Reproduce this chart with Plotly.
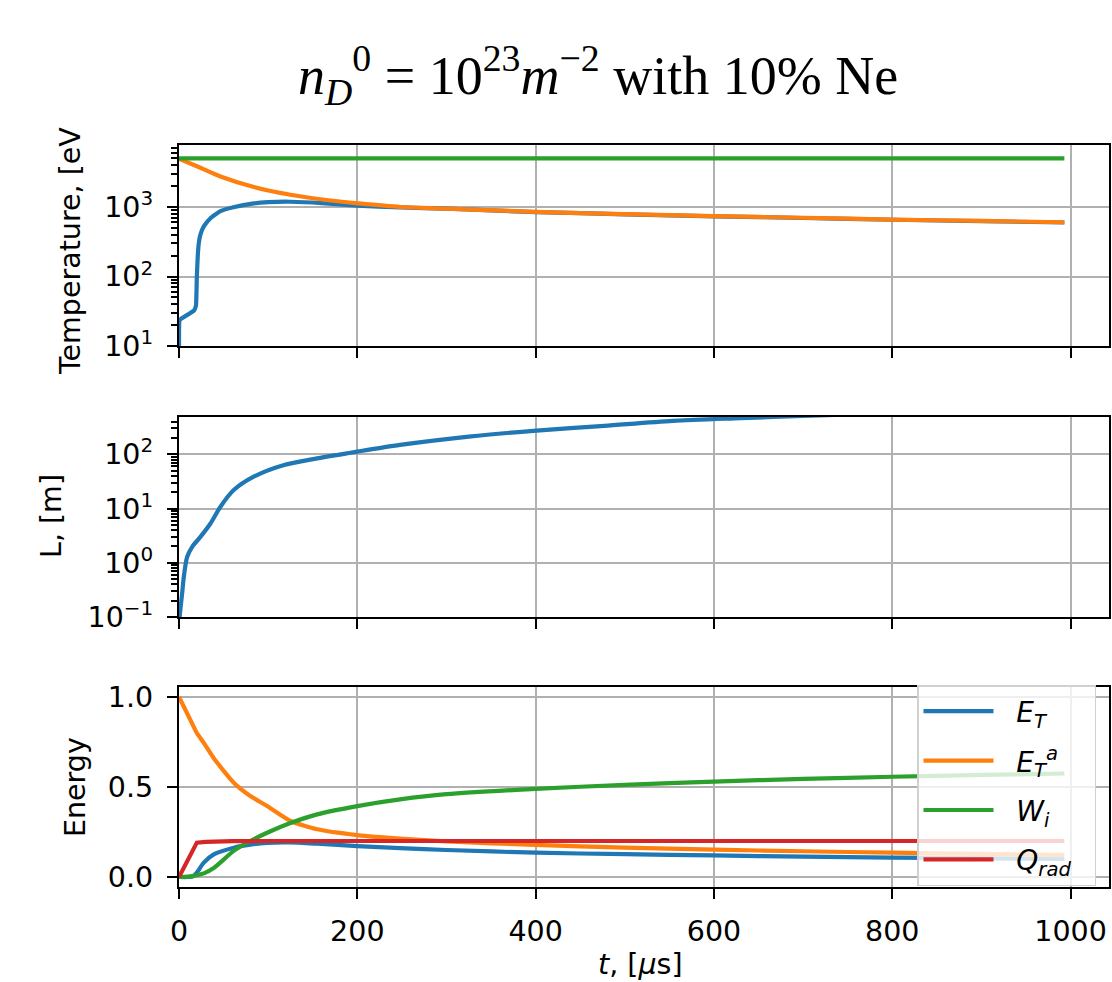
import plotly.graph_objects as go

# ---------------- data ----------------
# Top panel: temperatures [eV]
t_T = [0, 0.5, 2, 10, 17, 19, 20, 21, 22.2, 24, 27.8, 35.3, 46.5, 61, 84, 100,
       125, 160, 200, 248, 300, 400, 500, 600, 700, 800, 900, 993]
T_blue = [10, 23, 24.5, 28.4, 32.5, 38, 98, 192, 300, 400, 525, 690, 870, 990, 1125, 1175,
          1190, 1140, 1045, 985, 945, 845, 785, 735, 695, 655, 625, 598]
t_Ta = [0, 24, 46.5, 84, 125, 170, 200, 248, 300, 400, 500, 600, 700, 800, 900, 993]
T_orange = [4950, 3670, 2750, 1940, 1500, 1240, 1130, 1000, 950, 850, 790, 740, 700, 660, 630, 603]
t_Ti = [0, 993]
T_green = [5000, 5000]

# Middle panel: L [m]
t_L = [0, 0.7, 3.5, 5.4, 9.2, 14.8, 24, 35.3, 46.5, 61.4, 83.8, 117, 155, 200, 248,
       325, 401, 477, 554, 630, 700, 800, 993]
L_vals = [0.05, 0.1, 0.27, 0.55, 1.29, 1.97, 3.0, 5.3, 10.8, 21.9, 38.7, 63, 84, 112, 149,
          212, 274, 335, 414, 464, 510, 576, 700]

# Bottom panel: energies (normalised)
t_E = [0, 10, 15, 20, 27.8, 39, 61.4, 80, 98.8, 125, 155, 200, 248, 300, 400, 500,
       600, 700, 800, 900, 993]
E_T = [0, 0, 0.002, 0.025, 0.08, 0.126, 0.163, 0.18, 0.19, 0.192, 0.185, 0.172, 0.16,
       0.15, 0.135, 0.127, 0.12, 0.113, 0.108, 0.104, 0.10]
E_Ta = [1.0, 0.90, 0.85, 0.80, 0.745, 0.66, 0.524, 0.45, 0.394, 0.311, 0.265, 0.233, 0.213,
        0.198, 0.178, 0.163, 0.152, 0.143, 0.135, 0.128, 0.122]
W_i = [0, 0.002, 0.005, 0.01, 0.02, 0.05, 0.145, 0.2, 0.246, 0.30, 0.348, 0.394, 0.431,
       0.46, 0.49, 0.512, 0.53, 0.545, 0.557, 0.567, 0.575]
t_Q = [0, 20, 30, 42.8, 60, 100, 993]
Q_rad = [0, 0.191, 0.195, 0.197, 0.199, 0.2, 0.2]

legend_names = ["<i>E</i><sub><i>T</i></sub>",
                "<i>E</i><sub><i>T</i></sub><sup><i>a</i></sup>",
                "<i>W</i><sub><i>i</i></sub>",
                "<i>Q</i><sub><i>rad</i></sub>"]

x_ticks = [0, 200, 400, 600, 800, 1000]
x_ticklabels = ["0", "200", "400", "600", "800", "1000"]

# ---------------- styling ----------------
C_BLUE, C_ORANGE, C_GREEN, C_RED = "#1f77b4", "#ff7f0e", "#2ca02c", "#d62728"
W = 1112
H = 982
FONT = "DejaVu Sans"
FS = 28.5
LW = 4.2
NB = "\u00a0"

def px_x(p):
    return p / W

def px_y(p):
    return 1 - p / H

fig = go.Figure()

# top
fig.add_trace(go.Scatter(x=t_T, y=T_blue, mode="lines",
                         line=dict(color=C_BLUE, width=LW, shape="spline", smoothing=0.4),
                         xaxis="x", yaxis="y", showlegend=False))
fig.add_trace(go.Scatter(x=t_Ta, y=T_orange, mode="lines",
                         line=dict(color=C_ORANGE, width=LW, shape="spline", smoothing=0.8),
                         xaxis="x", yaxis="y", showlegend=False))
fig.add_trace(go.Scatter(x=t_Ti, y=T_green, mode="lines", line=dict(color=C_GREEN, width=LW),
                         xaxis="x", yaxis="y", showlegend=False))
# middle
fig.add_trace(go.Scatter(x=t_L, y=L_vals, mode="lines",
                         line=dict(color=C_BLUE, width=LW, shape="spline", smoothing=0.8),
                         xaxis="x2", yaxis="y2", showlegend=False))
# bottom
for tt, vv, col, nm, shp in [(t_E, E_T, C_BLUE, legend_names[0], "spline"),
                             (t_E, E_Ta, C_ORANGE, legend_names[1], "spline"),
                             (t_E, W_i, C_GREEN, legend_names[2], "spline"),
                             (t_Q, Q_rad, C_RED, legend_names[3], "linear")]:
    fig.add_trace(go.Scatter(x=tt, y=vv, mode="lines", name=NB + NB + nm + NB + NB,
                             line=dict(color=col, width=LW, shape=shp,
                                       **({"smoothing": 0.6} if shp == "spline" else {})),
                             xaxis="x3", yaxis="y3", legendgroup=nm))

xdom = [px_x(179), px_x(1108.5)]
doms = {
    "": [px_y(346), px_y(145)],
    "2": [px_y(617), px_y(417)],
    "3": [px_y(887), px_y(687)],
}

common_axis = dict(
    showline=True, mirror=True, linecolor="black", linewidth=2.2,
    ticks="outside", ticklen=10, tickwidth=2.2, tickcolor="black",
    showgrid=True, gridcolor="#b0b0b0", gridwidth=2, zeroline=False,
    tickfont=dict(family=FONT, size=FS, color="black"),
    automargin=False,
)

def minor_log(lo, hi):
    vals = []
    for e in range(lo, hi + 1):
        for m in range(2, 10):
            vals.append(m * 10 ** e)
    return vals

layout = dict(
    width=W, height=H, autosize=False, margin=dict(l=0, r=0, t=0, b=0, pad=0),
    plot_bgcolor="white", paper_bgcolor="white",
    font=dict(family=FONT, size=FS, color="black"),
    showlegend=True,
    legend=dict(x=px_x(917), y=px_y(685), xanchor="left", yanchor="top",
                bgcolor="rgba(255,255,255,0.8)", bordercolor="#d0d0d0", borderwidth=1.5,
                font=dict(family=FONT, size=28), tracegroupgap=10, itemwidth=70),
)

for k, xa_showlabels in [("", False), ("2", False), ("3", True)]:
    layout["xaxis" + k] = dict(common_axis, domain=xdom, anchor="y" + k, range=[0, 1042.5],
                               tickmode="array", tickvals=x_ticks, ticktext=x_ticklabels,
                               showticklabels=xa_showlabels, ticklabelstandoff=8,
                               **({} if k == "" else {"matches": "x"}))

layout["yaxis"] = dict(common_axis, domain=doms[""], anchor="x", type="log", range=[1, 3.892],
                       tickmode="array", tickvals=[10, 100, 1000], ticklabelstandoff=8,
                       ticktext=["10<sup>1</sup>", "10<sup>2</sup>", "10<sup>3</sup>"],
                       minor=dict(ticks="outside", ticklen=5.5, tickwidth=1.6, tickcolor="black",
                                  tickmode="array", tickvals=minor_log(1, 3), showgrid=False))
layout["yaxis2"] = dict(common_axis, domain=doms["2"], anchor="x2", type="log", range=[-1, 2.688],
                        tickmode="array", tickvals=[0.1, 1, 10, 100], ticklabelstandoff=8,
                        ticktext=["10<sup>−1</sup>", "10<sup>0</sup>", "10<sup>1</sup>", "10<sup>2</sup>"],
                        minor=dict(ticks="outside", ticklen=5.5, tickwidth=1.6, tickcolor="black",
                                   tickmode="array", tickvals=minor_log(-1, 2), showgrid=False))
layout["yaxis3"] = dict(common_axis, domain=doms["3"], anchor="x3", range=[-0.0555, 1.0555],
                        tickmode="array", tickvals=[0, 0.5, 1.0], ticklabelstandoff=8,
                        ticktext=["0.0", "0.5", "1.0"])

fig.update_layout(**layout)

annotations = [
    dict(text="<i>n</i><sub><i>D</i></sub><sup>0</sup> = 10<sup>23</sup><i>m</i><sup>−2</sup> with 10% Ne",
         x=px_x(598), y=px_y(75), xref="paper", yref="paper", xanchor="center", yanchor="middle",
         showarrow=False, font=dict(family="Liberation Serif", size=54, color="black")),
    dict(text="Temperature, [eV", x=px_x(70), y=px_y(251), xref="paper", yref="paper",
         xanchor="center", yanchor="middle", textangle=-90, showarrow=False,
         font=dict(family=FONT, size=FS, color="black")),
    dict(text="L, [m]", x=px_x(51), y=px_y(516), xref="paper", yref="paper",
         xanchor="center", yanchor="middle", textangle=-90, showarrow=False,
         font=dict(family=FONT, size=FS, color="black")),
    dict(text="Energy", x=px_x(75), y=px_y(787), xref="paper", yref="paper",
         xanchor="center", yanchor="middle", textangle=-90, showarrow=False,
         font=dict(family=FONT, size=FS, color="black")),
    dict(text="<i>t</i>, [<i>μ</i>s]", x=px_x(640), y=px_y(964), xref="paper", yref="paper",
         xanchor="center", yanchor="middle", showarrow=False,
         font=dict(family=FONT, size=FS, color="black")),
]
fig.update_layout(annotations=annotations)

post = (
    "var gd=document.getElementById('{plot_id}');"
    "document.documentElement.style.margin='0';"
    "document.documentElement.style.overflow='hidden';"
    "document.body.style.margin='0';"
    "document.body.style.overflow='hidden';"
    "gd.style.position='fixed';gd.style.left='0px';gd.style.top='0px';"
    "gd.style.width='1112px';gd.style.height='982px';"
)

fig.write_html("out.html", config={"responsive": False, "displayModeBar": False},
               post_script=post)
